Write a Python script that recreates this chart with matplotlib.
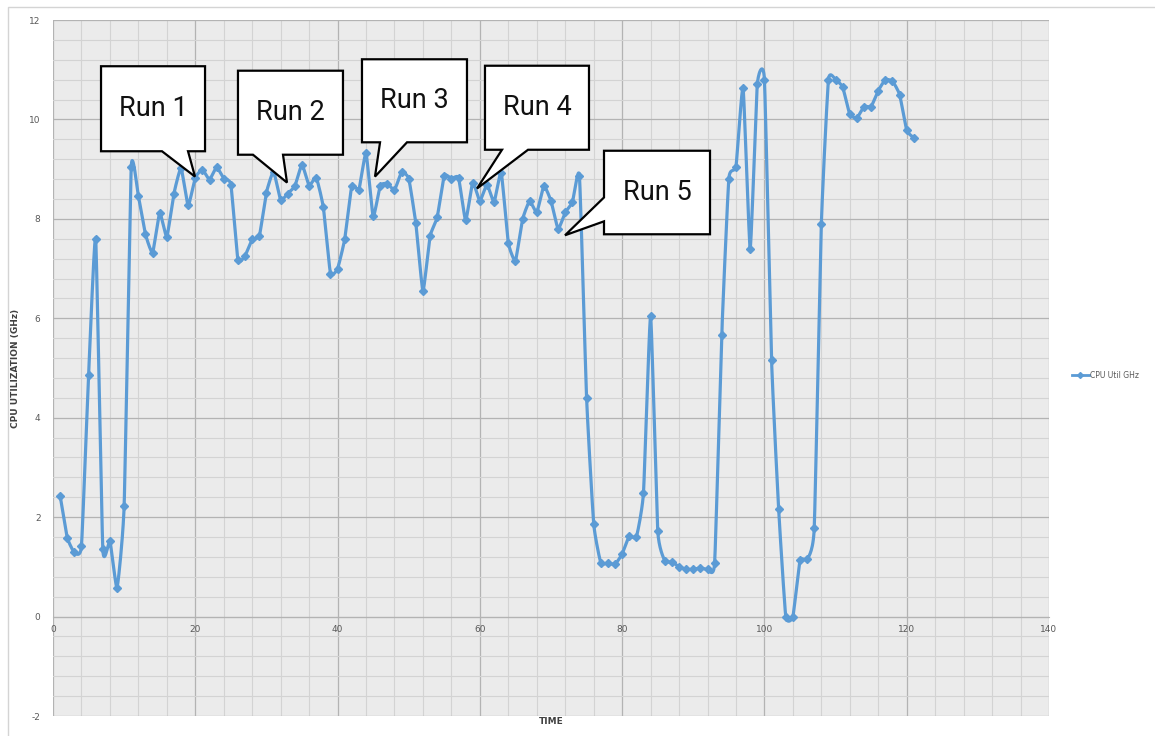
import numpy as np
import matplotlib
matplotlib.use("Agg")
import matplotlib.pyplot as plt
from matplotlib.patches import Polygon, Rectangle
from matplotlib.ticker import MultipleLocator
from matplotlib.lines import Line2D

plt.rcParams['axes.unicode_minus'] = False

# ---------------- data ----------------
time = np.arange(1, 122)
cpu_ghz = [
    2.43, 1.59, 1.29, 1.42, 4.85, 7.60, 1.36, 1.52, 0.58, 2.23,
    9.05, 8.46, 7.69, 7.32, 8.12, 7.64, 8.51, 9.02, 8.27, 8.83,
    8.99, 8.79, 9.04, 8.81, 8.69, 7.17, 7.26, 7.59, 7.65, 8.53,
    8.95, 8.38, 8.51, 8.66, 9.09, 8.67, 8.83, 8.23, 6.90, 7.00,
    7.59, 8.66, 8.59, 9.32, 8.05, 8.67, 8.71, 8.58, 8.94, 8.81,
    7.91, 6.55, 7.65, 8.03, 8.87, 8.81, 8.83, 7.97, 8.73, 8.36,
    8.69, 8.34, 8.93, 7.52, 7.16, 7.99, 8.36, 8.13, 8.66, 8.36,
    7.80, 8.13, 8.33, 8.86, 4.40, 1.87, 1.08, 1.08, 1.05, 1.26,
    1.62, 1.60, 2.49, 6.05, 1.73, 1.12, 1.10, 1.00, 0.95, 0.95,
    0.98, 0.95, 1.08, 5.67, 8.81, 9.05, 10.64, 7.40, 10.71, 10.80,
    5.16, 2.16, 0.00, 0.00, 1.13, 1.15, 1.78, 7.90, 10.80, 10.80,
    10.65, 10.10, 10.03, 10.26, 10.26, 10.58, 10.80, 10.77, 10.50, 9.78,
    9.63,
]
series_name = "CPU Util GHz"
run_labels = ["Run 1", "Run 2", "Run 3", "Run 4", "Run 5"]
x_label = "TIME"
y_label = "CPU UTILIZATION (GHz)"

# ---------------- helpers ----------------
def cardinal_spline(x, y, k=0.22, n=16):
    """Smooth curve through the points (tangent scale k)."""
    x = np.asarray(x, float)
    y = np.asarray(y, float)
    px = np.concatenate([[x[0]], x, [x[-1]]])
    py = np.concatenate([[y[0]], y, [y[-1]]])
    t = np.linspace(0, 1, n, endpoint=False)
    h00 = 2 * t**3 - 3 * t**2 + 1
    h10 = t**3 - 2 * t**2 + t
    h01 = -2 * t**3 + 3 * t**2
    h11 = t**3 - t**2
    xs, ys = [], []
    for i in range(1, len(px) - 2):
        for arr, out in ((px, xs), (py, ys)):
            p0, p1, p2, p3 = arr[i - 1], arr[i], arr[i + 1], arr[i + 2]
            m1 = k * (p2 - p0)
            m2 = k * (p3 - p1)
            out.append(h00 * p1 + h10 * m1 + h01 * p2 + h11 * m2)
    xs = np.concatenate(xs + [[x[-1]]])
    ys = np.concatenate(ys + [[y[-1]]])
    return xs, ys

# ---------------- figure ----------------
W, H = 1155, 736
fig = plt.figure(figsize=(W / 100, H / 100), dpi=100)
fig.patch.set_facecolor("white")

# outer chart frame
fig.patches.append(Rectangle((8 / W, -0.01), 1.0, 1 - 7 / H + 0.01,
                             transform=fig.transFigure, fill=False,
                             edgecolor="#d4d4d4", linewidth=1.0))

ax = fig.add_axes([53 / W, 20 / H, 996 / W, 696 / H])
ax.set_facecolor("#ebebeb")
ax.set_xlim(0, 140)
ax.set_ylim(-2, 12)
ax.xaxis.set_major_locator(MultipleLocator(20))
ax.xaxis.set_minor_locator(MultipleLocator(4))
ax.yaxis.set_major_locator(MultipleLocator(2))
ax.yaxis.set_minor_locator(MultipleLocator(0.4))
ax.grid(which="major", color="#b3b3b3", linewidth=0.9)
ax.grid(which="minor", color="#d3d3d3", linewidth=0.8)
ax.set_axisbelow(True)
for s in ("top", "right", "left"):
    ax.spines[s].set_visible(False)
ax.spines["bottom"].set_position(("data", 0))
ax.spines["bottom"].set_color("#b3b3b3")
ax.tick_params(which="both", length=0)
ax.tick_params(axis="x", pad=6, labelsize=6.5, labelcolor="#595959")
ax.tick_params(axis="y", pad=9, labelsize=6.5, labelcolor="#595959")

color = "#5b9bd5"
sx, sy = cardinal_spline(time, cpu_ghz)
ax.plot(sx, sy, color=color, linewidth=2.3, solid_capstyle="round",
        solid_joinstyle="round", zorder=3)
ax.plot(time, cpu_ghz, linestyle="none", marker="D", markersize=4.2,
        color=color, zorder=4)

fig.text(551 / W, 1 - 722 / H, x_label, ha="center", va="center",
         fontsize=6.5, fontweight="bold", color="#404040")
fig.text(16 / W, 1 - 368 / H, y_label, ha="center", va="center",
         rotation=90, fontsize=6.5, fontweight="bold", color="#404040")

# legend
handle = Line2D([], [], color=color, linewidth=2.0, marker="D", markersize=3)
ax.legend([handle], [series_name], loc="center left",
          bbox_to_anchor=((1072 - 53) / 996, (716 - 375) / 696),
          frameon=False, fontsize=5.5, handlelength=2.2, handletextpad=0.2,
          borderpad=0, borderaxespad=0, labelcolor="#595959")

# callouts (data coordinates)
callouts = [
    dict(box=(6.75, 21.37, 9.36, 11.07), side="bottom", base=(15.32, 18.98), tip=(19.96, 8.85)),
    dict(box=(26.0, 40.76, 9.29, 10.98), side="bottom", base=(28.11, 32.33), tip=(32.89, 8.73)),
    dict(box=(43.43, 58.19, 9.54, 11.21), side="bottom", base=(45.97, 49.76), tip=(45.26, 8.85)),
    dict(box=(60.72, 75.34, 9.39, 11.08), side="bottom", base=(63.11, 66.77), tip=(59.6, 8.61)),
    dict(box=(77.45, 92.35, 7.69, 9.37), side="left", base=(7.95, 8.43), tip=(71.97, 7.67)),
]
for lab, c in zip(run_labels, callouts):
    x0, x1, y0, y1 = c["box"]
    b1, b2 = c["base"]
    tx, ty = c["tip"]
    if c["side"] == "bottom":
        verts = [(x0, y1), (x1, y1), (x1, y0), (b2, y0), (tx, ty), (b1, y0), (x0, y0)]
    else:
        verts = [(x0, y1), (x1, y1), (x1, y0), (x0, y0), (x0, b1), (tx, ty), (x0, b2)]
    ax.add_patch(Polygon(verts, closed=True, facecolor="white", edgecolor="black",
                         linewidth=1.6, joinstyle="miter", zorder=6, clip_on=False))
    ax.text((x0 + x1) / 2, (y0 + y1) / 2, lab, ha="center", va="center",
            fontsize=19.5, family=["Roboto", "DejaVu Sans"], color="#111111", zorder=7)

fig.savefig("out.png", dpi=100, facecolor="white")
